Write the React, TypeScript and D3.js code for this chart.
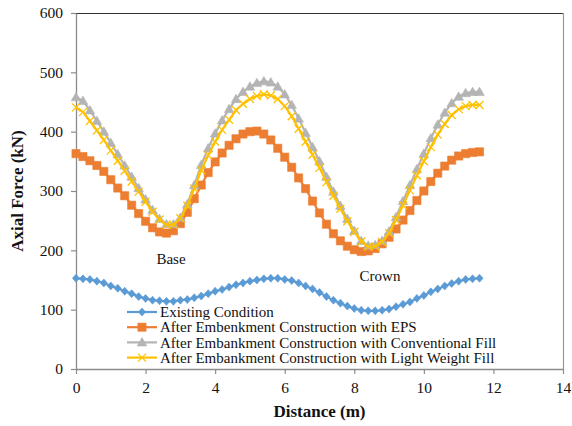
import { useEffect, useRef } from "react";
import * as d3 from "d3";

// distance along the lining (m)
const distance = [
    0, 0.2, 0.4, 0.6, 0.8, 1, 1.2, 1.4, 1.6, 1.8, 2, 2.2, 2.4, 2.6, 2.8, 3,
    3.2, 3.4, 3.6, 3.8, 4, 4.2, 4.4, 4.6, 4.8, 5, 5.2, 5.4, 5.6, 5.8, 6, 6.2,
    6.4, 6.6, 6.8, 7, 7.2, 7.4, 7.6, 7.8, 8, 8.2, 8.4, 8.6, 8.8, 9, 9.2, 9.4,
    9.6, 9.8, 10, 10.2, 10.4, 10.6, 10.8, 11, 11.2, 11.4, 11.6,
];

const existing = [
    153, 152, 151, 148, 145, 140, 136, 131, 127, 122, 119, 116, 115, 114, 114,
    116, 117, 120, 123, 127, 131, 134, 138, 142, 145, 148, 150, 152, 153, 153,
    151, 149, 145, 140, 135, 129, 122, 116, 111, 106, 102, 99, 98, 98, 99, 101,
    105, 109, 113, 119, 124, 130, 135, 140, 144, 148, 151, 152, 153,
];

const eps = [
    363, 358, 351, 343, 333, 319, 305, 292, 276, 262, 249, 238, 231, 229, 233,
    245, 264, 287, 310, 331, 349, 364, 377, 388, 396, 400, 401, 396, 386, 372,
    357, 340, 322, 304, 283, 263, 244, 228, 216, 207, 201, 198, 199, 203, 211,
    222, 236, 251, 267, 284, 300, 316, 330, 342, 352, 359, 363, 365, 366,
];

const conventional = [
    458, 452, 436, 418, 400, 381, 362, 343, 324, 305, 286, 268, 253, 244, 244,
    255, 278, 310, 344, 372, 397, 419, 438, 455, 467, 476, 482, 485, 483, 476,
    463, 445, 422, 398, 374, 350, 324, 299, 275, 253, 233, 216, 208, 209, 216,
    232, 256, 283, 310, 337, 363, 389, 412, 432, 448, 459, 465, 467, 467,
];

const lightWeight = [
    441, 433, 418, 402, 386, 368, 351, 334, 316, 299, 282, 265, 252, 243, 243,
    254, 275, 304, 335, 360, 383, 403, 420, 436, 447, 455, 460, 463, 461, 455,
    443, 426, 405, 383, 361, 339, 315, 292, 270, 249, 231, 215, 206, 207, 214,
    229, 251, 276, 301, 326, 350, 374, 395, 413, 428, 438, 443, 445, 445,
];

const seriesNames = [
    "Existing Condition",
    "After Embenkment Construction with EPS",
    "After Embankment Construction with Conventional Fill",
    "After Embankment Construction with Light Weight Fill",
];

const xTicks = [0, 2, 4, 6, 8, 10, 12, 14];
const yTicks = [0, 100, 200, 300, 400, 500, 600];

const FONT = "'Liberation Serif', 'Times New Roman', serif";

const markerPath = {
    diamond: "M0,-4L3.6,0L0,4L-3.6,0Z",
    square: "M-4.1,-4.1H4.1V4.1H-4.1Z",
    triangle: "M0,-4.8L4.8,3.6H-4.8Z",
    cross: "M-4,-4L4,4M-4,4L4,-4",
};

export default function App() {
    const svgRef = useRef(null);

    useEffect(() => {
        const svg = d3.select(svgRef.current);
        svg.selectAll("*").remove();

        const width = 572;
        const height = 426;
        svg.attr("viewBox", `0 0 ${width} ${height}`);

        const plot = { left: 76, right: 563, top: 13, bottom: 369 };

        const x = d3.scaleLinear().domain([0, 14]).range([plot.left, plot.right]);
        const y = d3.scaleLinear().domain([0, 600]).range([plot.bottom, plot.top]);

        const series = [
            { name: seriesNames[0], values: existing, color: "#5B9BD5", marker: "diamond" },
            { name: seriesNames[1], values: eps, color: "#ED7D31", marker: "square" },
            { name: seriesNames[2], values: conventional, color: "#B4B4B4", marker: "triangle" },
            { name: seriesNames[3], values: lightWeight, color: "#FFC000", marker: "cross" },
        ];

        // plot frame
        svg.append("line")
            .attr("x1", plot.left).attr("x2", plot.right)
            .attr("y1", plot.top + 0.5).attr("y2", plot.top + 0.5)
            .attr("stroke", "#333").attr("stroke-width", 1);
        svg.append("line")
            .attr("x1", plot.right + 0.5).attr("x2", plot.right + 0.5)
            .attr("y1", plot.top).attr("y2", plot.bottom)
            .attr("stroke", "#999").attr("stroke-width", 1.2);

        const xAxis = svg.append("g")
            .attr("transform", `translate(0, ${plot.bottom})`)
            .call(
                d3.axisBottom(x).tickValues(xTicks).tickSize(5).tickSizeOuter(0).tickPadding(8)
            );
        const yAxis = svg.append("g")
            .attr("transform", `translate(${plot.left}, 0)`)
            .call(
                d3.axisLeft(y).tickValues(yTicks).tickSize(5).tickSizeOuter(0).tickPadding(8)
            );

        [xAxis, yAxis].forEach((axis) => {
            axis.select(".domain").attr("stroke", "#8c8c8c").attr("stroke-width", 1.3);
            axis.selectAll(".tick line").attr("stroke", "#8c8c8c").attr("stroke-width", 1.2);
            axis.selectAll(".tick text")
                .attr("fill", "#111")
                .style("font-family", FONT)
                .style("font-size", "15.5px");
        });

        // series
        series.forEach((s) => {
            const points = distance.map((d, i) => [x(d), y(s.values[i])]);
            svg.append("path")
                .attr("d", d3.line()(points))
                .attr("fill", "none")
                .attr("stroke", s.color)
                .attr("stroke-width", 2.2);

            svg.append("g")
                .selectAll("path")
                .data(points)
                .join("path")
                .attr("transform", (p) => `translate(${p[0]}, ${p[1]})`)
                .attr("d", markerPath[s.marker])
                .attr("fill", s.marker === "cross" ? "none" : s.color)
                .attr("stroke", s.color)
                .attr("stroke-width", s.marker === "cross" ? 1.3 : 0.6);
        });

        // annotations
        svg.append("text")
            .attr("x", 171).attr("y", 264)
            .attr("text-anchor", "middle")
            .style("font-family", FONT).style("font-size", "15px")
            .attr("fill", "#111")
            .text("Base");
        svg.append("text")
            .attr("x", 380).attr("y", 281)
            .attr("text-anchor", "middle")
            .style("font-family", FONT).style("font-size", "15px")
            .attr("fill", "#111")
            .text("Crown");

        // legend
        const legend = svg.append("g");
        series.forEach((s, i) => {
            const ly = 312 + i * 15.2;
            legend.append("line")
                .attr("x1", 127).attr("x2", 157)
                .attr("y1", ly).attr("y2", ly)
                .attr("stroke", s.color).attr("stroke-width", 2.2);
            legend.append("path")
                .attr("transform", `translate(142, ${ly})`)
                .attr("d", markerPath[s.marker])
                .attr("fill", s.marker === "cross" ? "none" : s.color)
                .attr("stroke", s.color)
                .attr("stroke-width", s.marker === "cross" ? 1.3 : 0.6);
            legend.append("text")
                .attr("x", 160).attr("y", ly)
                .attr("dy", "0.34em")
                .style("font-family", FONT).style("font-size", "15px")
                .attr("fill", "#111")
                .text(s.name);
        });

        // axis titles
        svg.append("text")
            .attr("x", (plot.left + plot.right) / 2).attr("y", 417)
            .attr("text-anchor", "middle")
            .style("font-family", FONT).style("font-size", "17px").style("font-weight", "bold")
            .attr("fill", "#111")
            .text("Distance (m)");
        svg.append("text")
            .attr("transform", `translate(23, ${(plot.top + plot.bottom) / 2}) rotate(-90)`)
            .attr("text-anchor", "middle")
            .style("font-family", FONT).style("font-size", "17px").style("font-weight", "bold")
            .attr("fill", "#111")
            .text("Axial Force (kN)");
    }, []);

    return (
        <svg
            ref={svgRef}
            width={572}
            height={426}
            style={{ position: "absolute", left: 0, top: 0, background: "#fff" }}
        />
    );
}
